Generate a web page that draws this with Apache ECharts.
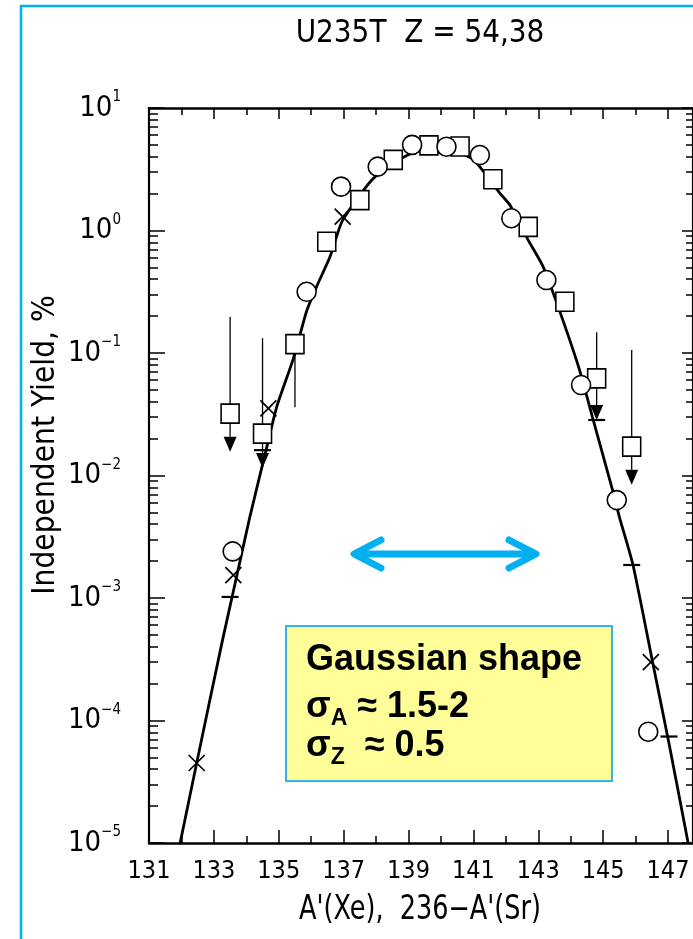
<!DOCTYPE html>
<html>
<head>
<meta charset="utf-8">
<script src="https://cdn.jsdelivr.net/npm/echarts@6/dist/echarts.min.js"></script>
<style>
  html, body { margin: 0; padding: 0; background: #fff; }
  #chart { width: 693px; height: 939px; }
</style>
</head>
<body>
<div id="chart"></div>
<script>
// Independent fission yields, U-235 thermal, Z = 54 (Xe) and Z = 38 (Sr)

// smooth fitted curve through the points
const fitX = [131.96, 132.47, 133.24, 133.65, 134.11, 134.58, 134.94, 135.45, 135.86, 136.17, 136.58, 136.96,
              137.86, 138.5, 139.2, 139.8, 140.4, 141.0, 141.82, 142.13, 142.69, 143.15, 143.72, 144.27,
              144.67, 145.29, 145.5, 145.92, 146.53, 147.05, 147.62];
const fitY = [1.0e-5, 4.5e-5, 4.2e-4, 1.3e-3, 4.6e-3, 0.015, 0.0365, 0.09, 0.22, 0.35, 0.61, 1.2,
              2.57, 3.5, 4.4, 4.6, 4.4, 3.8, 2.01, 1.61, 0.835, 0.506, 0.198, 0.073,
              0.030, 0.0076, 0.0046, 0.00186, 2.95e-4, 6.1e-5, 1.0e-5];

// open circles
const circleX = [133.58, 135.86, 136.92, 138.05, 139.11, 140.17, 141.2, 142.17, 143.25, 144.32, 145.42, 146.39];
const circleY = [0.0024, 0.316, 2.28, 3.32, 5.0, 4.83, 4.13, 1.26, 0.394, 0.0548, 0.0063, 8.1e-5];

// open squares
const squareX = [133.5, 134.5, 135.5, 136.48, 137.5, 138.53, 139.63, 140.59, 141.6, 142.69, 143.82, 144.8, 145.88];
const squareY = [0.032, 0.022, 0.118, 0.81, 1.77, 3.77, 4.95, 4.85, 2.62, 1.07, 0.262, 0.062, 0.0172];

// crosses
const crossX = [132.47, 133.6, 134.68, 136.97, 146.47];
const crossY = [4.5e-5, 0.00154, 0.0353, 1.30, 3.0e-4];

// horizontal bars
const barX = [133.5, 134.5, 144.8, 145.88, 147.03];
const barY = [0.00102, 0.0161, 0.0284, 0.00186, 7.4e-5];

// upper limits: vertical line from top down to an arrow tip
const limitX = [133.5, 134.5, 144.8, 145.88];
const limitTop = [0.197, 0.132, 0.148, 0.106];
const limitTip = [0.0156, 0.0115, 0.0284, 0.0084];

// plain vertical error segment
const errX = [135.5];
const errTop = [0.104];
const errBottom = [0.036];

// axes
const xMin = 131, xMax = 147.77;
const xLabelValues = [131, 133, 135, 137, 139, 141, 143, 145, 147];
const xMinorValues = [132, 134, 136, 138, 140, 142, 144, 146];
const yDecades = [1e-5, 1e-4, 1e-3, 1e-2, 1e-1, 1e0, 1e1];
const yMultipliers = [2, 3, 4, 5, 6, 7, 8, 9];

const titleText = 'U235T  Z = 54,38';
const xName = "A'(Xe),  236\u2212A'(Sr)";
const yName = 'Independent Yield, %';
const noteLines = ['Gaussian shape', '{b|\u03c3}{s|A}{b| \u2248 1.5-2}', '{b|\u03c3}{s|Z}{b|  \u2248 0.5}'];

const COND = '"DejaVu Sans Condensed", "DejaVu Sans", sans-serif';
const BOLD = 'bold 36px "Liberation Sans", Arial, sans-serif';
const BLUE = '#00b0f0';

const yMinorValues = [];
for (let d = -5; d < 1; d++) {
  yMultipliers.forEach(m => yMinorValues.push(+(m * Math.pow(10, d)).toPrecision(6)));
}

const zip = (xs, ys) => xs.map((x, i) => [x, ys[i]]);

function xAxisDef(position, values, len, withLabels, withLine) {
  return {
    type: 'value', min: xMin, max: xMax, position: position,
    axisLine: { show: withLine, onZero: false, lineStyle: { color: '#000', width: 2.5 } },
    axisTick: { show: true, inside: true, length: len, customValues: values,
                lineStyle: { color: '#000', width: 1.5 } },
    axisLabel: withLabels ? {
      show: true, customValues: values, margin: 16, color: '#000',
      fontFamily: COND, fontSize: 25
    } : { show: false },
    splitLine: { show: false }
  };
}

function supLabel(v) {
  const e = Math.round(Math.log10(v));
  const s = e < 0 ? '\u2212' + (-e) : String(e);
  return '{b|10}{e|' + s + '}';
}

function yAxisDef(position, values, len, withLabels, withLine) {
  return {
    type: 'log', logBase: 10, min: 1e-5, max: 10, position: position,
    axisLine: { show: withLine, onZero: false, lineStyle: { color: '#000', width: 2.2 } },
    axisTick: { show: true, inside: true, length: len, customValues: values,
                lineStyle: { color: '#000', width: 1.5 } },
    axisLabel: withLabels ? {
      show: true, customValues: values, margin: 28, formatter: supLabel,
      rich: {
        b: { fontFamily: COND, fontSize: 29, lineHeight: 36, color: '#000' },
        e: { fontFamily: COND, fontSize: 15, lineHeight: 15, color: '#000', verticalAlign: 'top' }
      }
    } : { show: false },
    minorTick: { show: false },
    splitLine: { show: false }
  };
}

function verticalMarks(withArrow) {
  return function (params, api) {
    const x = api.value(0);
    const pTop = api.coord([x, api.value(1)]);
    const pEnd = api.coord([x, api.value(2)]);
    const children = [];
    const triH = 15, triW = 6.5;
    children.push({
      type: 'line',
      shape: { x1: pTop[0], y1: pTop[1], x2: pEnd[0], y2: withArrow ? pEnd[1] - triH : pEnd[1] },
      style: { stroke: '#000', lineWidth: 1.3 }
    });
    if (withArrow) {
      children.push({
        type: 'polygon',
        shape: { points: [[pEnd[0] - triW, pEnd[1] - triH], [pEnd[0] + triW, pEnd[1] - triH], [pEnd[0], pEnd[1]]] },
        style: { fill: '#000' }
      });
    }
    return { type: 'group', children: children };
  };
}

const openMarker = { color: '#fff', borderColor: '#000', borderWidth: 1.6, opacity: 1 };

const chart = echarts.init(document.getElementById('chart'), null, { renderer: 'canvas' });

chart.setOption({
  animation: false,
  backgroundColor: '#fff',
  grid: { left: 149, right: 0, top: 108, bottom: 96 },
  xAxis: [
    xAxisDef('bottom', xLabelValues, 13, true, true),
    xAxisDef('bottom', xMinorValues, 7, false, false),
    xAxisDef('top', xLabelValues, 11, false, true),
    xAxisDef('top', xMinorValues, 7, false, false)
  ],
  yAxis: [
    yAxisDef('left', yDecades, 16, true, true),
    yAxisDef('left', yMinorValues, 9, false, false),
    yAxisDef('right', yDecades, 11, false, true),
    yAxisDef('right', yMinorValues, 7, false, false)
  ],
  series: [
    {
      type: 'line', name: 'fit', data: zip(fitX, fitY), symbol: 'none', showSymbol: false,
      smooth: 0.2, lineStyle: { color: '#000', width: 2.8 }, z: 2, silent: true
    },
    {
      type: 'custom', name: 'upper limits', renderItem: verticalMarks(true),
      data: limitX.map((x, i) => [x, limitTop[i], limitTip[i]]), z: 3, silent: true
    },
    {
      type: 'custom', name: 'error', renderItem: verticalMarks(false),
      data: errX.map((x, i) => [x, errTop[i], errBottom[i]]), z: 3, silent: true
    },
    {
      type: 'scatter', name: 'squares', data: zip(squareX, squareY), symbol: 'rect', symbolSize: [18, 19],
      itemStyle: openMarker, z: 4
    },
    {
      type: 'scatter', name: 'circles', data: zip(circleX, circleY), symbol: 'circle', symbolSize: 19,
      itemStyle: openMarker, z: 5
    },
    {
      type: 'scatter', name: 'crosses', data: zip(crossX, crossY), symbol: 'path://M0,0L10,10M10,0L0,10',
      symbolSize: 16, itemStyle: { color: 'none', borderColor: '#000', borderWidth: 1.7, opacity: 1 }, z: 6
    },
    {
      type: 'scatter', name: 'bars', data: zip(barX, barY), symbol: 'rect', symbolSize: [17, 2.2],
      itemStyle: { color: '#000', opacity: 1 }, z: 6
    }
  ],
  graphic: [
    {
      type: 'rect', shape: { x: 21, y: 6, width: 900, height: 1200 },
      style: { fill: 'none', stroke: BLUE, lineWidth: 2.5 }, silent: true
    },
    {
      type: 'text', x: 420, y: 34, scaleX: 0.97,
      style: { text: titleText, font: '32px ' + COND, fill: '#000', align: 'center', verticalAlign: 'middle' }
    },
    {
      type: 'text', x: 420, y: 910, scaleX: 0.86,
      style: { text: xName, font: '33px ' + COND, fill: '#000', align: 'center', verticalAlign: 'middle' }
    },
    {
      type: 'text', x: 46, y: 445, rotation: Math.PI / 2, scaleX: 0.98,
      style: { text: yName, font: '32px ' + COND, fill: '#000', align: 'center', verticalAlign: 'middle' }
    },
    {
      type: 'group', children: [
        { type: 'polyline', shape: { points: [[356, 554], [534, 554]] },
          style: { stroke: BLUE, lineWidth: 7, lineCap: 'round', fill: null } },
        { type: 'polyline', shape: { points: [[381, 540], [354, 554], [381, 568]] },
          style: { stroke: BLUE, lineWidth: 7, lineCap: 'round', lineJoin: 'round', fill: null } },
        { type: 'polyline', shape: { points: [[509, 540], [536, 554], [509, 568]] },
          style: { stroke: BLUE, lineWidth: 7, lineCap: 'round', lineJoin: 'round', fill: null } }
      ]
    },
    {
      type: 'rect', shape: { x: 286, y: 626, width: 326, height: 155 },
      style: { fill: '#ffff99', stroke: '#33b5e5', lineWidth: 2 }
    },
    {
      type: 'text', x: 306, y: 660,
      style: { text: noteLines[0], font: BOLD, fill: '#000', verticalAlign: 'middle' }
    },
    {
      type: 'text', x: 306, y: 707,
      style: {
        text: noteLines[1], verticalAlign: 'middle',
        rich: {
          b: { font: BOLD, fill: '#000', lineHeight: 46 },
          s: { font: 'bold 23px "Liberation Sans", Arial, sans-serif', fill: '#000', lineHeight: 22, verticalAlign: 'bottom' }
        }
      }
    },
    {
      type: 'text', x: 306, y: 746,
      style: {
        text: noteLines[2], verticalAlign: 'middle',
        rich: {
          b: { font: BOLD, fill: '#000', lineHeight: 46 },
          s: { font: 'bold 23px "Liberation Sans", Arial, sans-serif', fill: '#000', lineHeight: 22, verticalAlign: 'bottom' }
        }
      }
    }
  ]
});
</script>
</body>
</html>
